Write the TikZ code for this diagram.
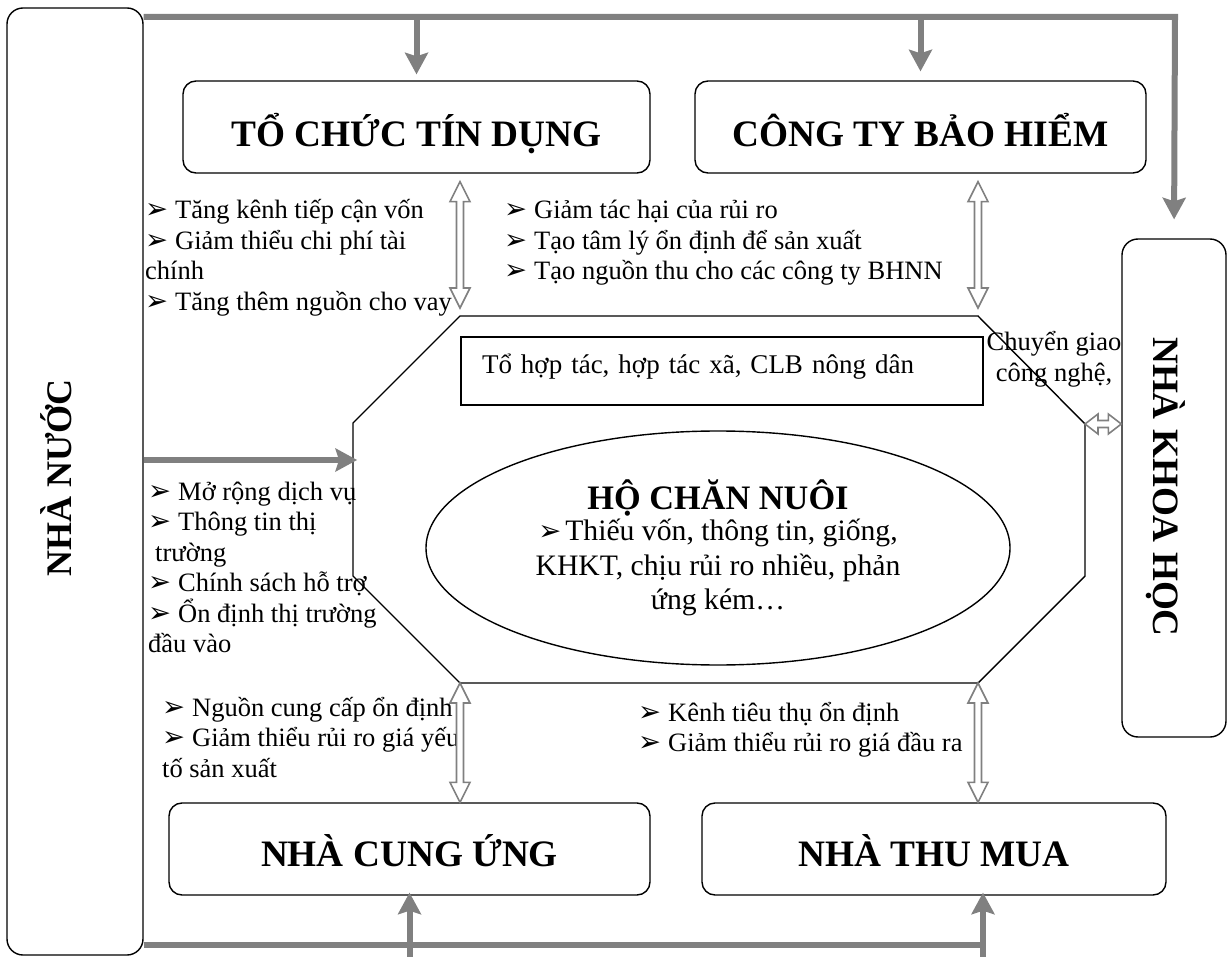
\documentclass[tikz,border=0pt]{standalone}
\usepackage{fontspec}
\setmainfont{Liberation Serif}
\newfontfamily\arrowfont{DejaVu Sans}
\usepackage{tikz}
\usetikzlibrary{shapes.geometric,arrows.meta,positioning,calc}
\tikzstyle{bus} = [draw=gray, line width=6pt]
\tikzstyle{busarrow} = [bus, -{Stealth[length=22pt,width=24pt,inset=4pt,line width=0pt]}]
\newcommand\bul[1][30pt]{\makebox[#1][l]{\resizebox{23pt}{15pt}{\arrowfont ➢}}}
\tikzset{dbl/.style 2 args={draw=gray, line width=1.6pt, fill=white, to path={
  ($(\tikztostart)!#1!(\tikztotarget)$)
  -- ($(\tikztostart)!#2!(\tikztotarget)!10pt!90:(\tikztotarget)$)
  -- ($(\tikztostart)!#2!(\tikztotarget)!3.5pt!90:(\tikztotarget)$)
  -- ($(\tikztotarget)!#2!(\tikztostart)!3.5pt!-90:(\tikztostart)$)
  -- ($(\tikztotarget)!#2!(\tikztostart)!10pt!-90:(\tikztostart)$)
  -- ($(\tikztotarget)!#1!(\tikztostart)$)
  -- ($(\tikztotarget)!#2!(\tikztostart)!10pt!90:(\tikztostart)$)
  -- ($(\tikztotarget)!#2!(\tikztostart)!3.5pt!90:(\tikztostart)$)
  -- ($(\tikztostart)!#2!(\tikztotarget)!3.5pt!-90:(\tikztotarget)$)
  -- ($(\tikztostart)!#2!(\tikztotarget)!10pt!-90:(\tikztotarget)$)
  -- cycle}}}

\begin{document}
\begin{tikzpicture}[x=1pt, y=-1pt, node distance=504pt]
    \tikzstyle{side} = [rectangle, draw, rounded corners=16pt, line width=1.4pt]
    \tikzstyle{title} = [rectangle, draw, rounded corners=13pt, line width=1.4pt,
        minimum height=92pt, text depth=0pt, font=\bfseries\fontsize{37.3}{40}\selectfont]
    \tikzstyle{note} = [inner sep=0pt, align=left, anchor=base west, font=\fontsize{26.5}{30.5}\selectfont]
    \useasboundingbox (0,0) rectangle (1229,957);

    \node [side, minimum width=136pt, minimum height=947pt] (nn) at (75,481.5) {};
    \node [rotate=90, anchor=base, font=\bfseries\fontsize{36}{40}\selectfont] (nnText) at (71,478) {NHÀ NƯỚC};
    \node [side, minimum width=104pt, minimum height=498pt] (nkh) at (1174,488) {};
    \node [rotate=-90, anchor=base, font=\bfseries\fontsize{37.2}{40}\selectfont] (nkhText) at (1153,487) {NHÀ KHOA HỌC};

    \node [title, minimum width=467pt, text height=40pt] (tcd) at (416.5,127) {TỔ CHỨC TÍN DỤNG};
    \node [title, minimum width=451pt, text height=40pt] (ctbh) [right of=tcd] {CÔNG TY BẢO HIỂM};
    \node [title, minimum width=481pt, text height=34pt] (ncu) at (409.5,849) {NHÀ CUNG ỨNG};
    \node [title, minimum width=464pt, text height=34pt] (ntm) [right of=ncu, xshift=20.5pt] {NHÀ THU MUA};

    % octagon
    \coordinate (oTL) at (460,316);
    \coordinate (oTR) at (978,316);
    \coordinate (oRT) at (1085,424);
    \coordinate (oRB) at (1085,576);
    \coordinate (oBR) at (978,683);
    \coordinate (oBL) at (460,683);
    \coordinate (oLB) at (353,576);
    \coordinate (oLT) at (353,423);
    \coordinate (oW) at (353,460);
    \draw [line width=1.4pt] (oTL) -- (oTR) -- (oRT) -- (oRB) -- (oBR) -- (oBL) -- (oLB) -- (oLT) -- cycle;

    \node [draw, line width=1.4pt, minimum width=522pt, minimum height=68pt, text width=480pt,
        inner xsep=21pt, text height=6pt, text depth=0pt, align=left,
        font=\fontsize{27}{30}\selectfont] (tht) at (722,371) {Tổ hợp tác, hợp tác xã, CLB nông dân};
    \node [ellipse, draw, line width=1.4pt, minimum width=584pt, minimum height=234pt, inner sep=0pt,
        align=center, font=\fontsize{29.7}{34.5}\selectfont] (hcn) at (718,548)
        {{\bfseries\fontsize{34.3}{34.5}\selectfont HỘ CHĂN NUÔI}\\[-3pt]
         \bul[27pt]Thiếu vốn, thông tin, giống,\\ KHKT, chịu rủi ro nhiều, phản\\ ứng kém…};

    % texts (anchored on the last line)
    \node [note] (txtTD) at (145,310.5) {\bul Tăng kênh tiếp cận vốn\\ \bul Giảm thiểu chi phí tài\\ chính\\ \bul Tăng thêm nguồn cho vay};
    \node [note] (txtBH) at (504,280) {\bul Giảm tác hại của rủi ro\\ \bul Tạo tâm lý ổn định để sản xuất\\ \bul Tạo nguồn thu cho các công ty BHNN};
    \node [note] (txtNN) at (148,652.5) {\bul Mở rộng dịch vụ\\ \bul Thông tin thị\\ \hspace*{7pt}trường\\ \bul Chính sách hỗ trợ\\ \bul Ổn định thị trường\\ đầu vào};
    \node [note] (txtCU) at (162,777) {\bul Nguồn cung cấp ổn định\\ \bul Giảm thiểu rủi ro giá yếu\\ tố sản xuất};
    \node [note] (txtTM) at (638,751.5) {\bul Kênh tiêu thụ ổn định\\ \bul Giảm thiểu rủi ro giá đầu ra};
    \node [note, align=center, anchor=base, font=\fontsize{26.5}{32}\selectfont] (txtKH) at (1054,382) {Chuyển giao\\ công nghệ,};

    % Arrows
    \coordinate (busT) at (1175,17);
    \coordinate (busB) at (983,945);
    \coordinate (bot) at (0,962);
    \draw [busarrow, shorten >=19pt] (nn.east |- busT) -- (busT) -- (nkh.north);
    \draw [busarrow, shorten >=6pt] (tcd.north |- busT) -- (tcd.north);
    \draw [busarrow, shorten >=9pt] (ctbh.north |- busT) -- (ctbh.north);
    \draw [busarrow, shorten >=-4pt] (nn.east |- oW) -- (oW);
    \draw [bus] (nn.east |- busB) -- (busB);
    \draw [busarrow, shorten >=-3pt] (ncu.south |- bot) -- (ncu.south);
    \draw [busarrow, shorten >=-3pt] (busB |- bot) -- (ntm.south -| busB);

    \draw [dbl={8pt}{28pt}] (oTL |- tcd.south) to (oTL);
    \draw [dbl={8pt}{28pt}] (oTR |- ctbh.south) to (oTR);
    \draw [dbl={0pt}{20pt}] (oBL) to (oBL |- ncu.north);
    \draw [dbl={0pt}{20pt}] (oBR) to (oBR |- ntm.north);
    \draw [dbl={0pt}{13pt}] (oRT) to (nkh.west |- oRT);
\end{tikzpicture}
\end{document}
